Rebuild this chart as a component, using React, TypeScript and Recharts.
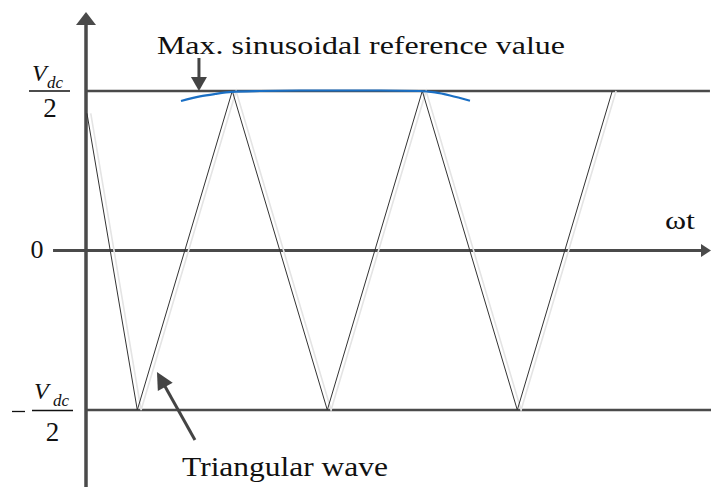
import React from "react";
import { LineChart, Line, XAxis, YAxis, ReferenceLine, ReferenceDot } from "recharts";

// Triangular carrier vertices (x in half-carrier periods, y in units of Vdc/2)
const carrierX = [0.01, 0.54, 1.54, 2.54, 3.54, 4.54, 5.54];
const carrierY = [0.86, -1, 1, -1, 1, -1, 1];

// Peak region of the sinusoidal reference
const refX = [1.0, 1.2, 1.358, 1.537, 1.832, 2.253, 2.674, 3.095, 3.516, 3.674, 3.832, 4.042];
const refY = [0.937, 0.966, 0.981, 0.994, 1.0, 1.003, 1.003, 1.003, 1.0, 0.991, 0.972, 0.939];

// Level ticks on the vertical axis
const levelTicks = [-1, 0, 1];

// Axis extents
const xMin = 0;
const xMax = 6.579;
const yMin = -1.4828;
const yMax = 1.5078;

const carrierData = carrierX.map((x, i) => ({ x, y: carrierY[i] }));
const carrierShadow = carrierX.map((x, i) => ({ x: x + 0.04, y: carrierY[i] }));
const refData = refX.map((x, i) => ({ x, y: refY[i] }));

const SERIF = '"Liberation Serif"';
const AXIS = "#4a4a4a";
const serif = (size: number, italic = false): React.CSSProperties => ({
  fontFamily: SERIF,
  fontSize: size,
  fontStyle: italic ? "italic" : "normal",
});

const arrowShape =
  (head: number, half: number, color: string, width: number) => (p: any) => {
    const { x1, y1, x2, y2 } = p;
    const dx = x2 - x1;
    const dy = y2 - y1;
    const len = Math.hypot(dx, dy) || 1;
    const ux = dx / len;
    const uy = dy / len;
    const bx = x2 - ux * head;
    const by = y2 - uy * head;
    const nx = -uy * half;
    const ny = ux * half;
    return (
      <g>
        <line x1={x1} y1={y1} x2={bx + ux} y2={by + uy} stroke={color} strokeWidth={width} />
        <polygon
          points={`${x2},${y2} ${bx + nx},${by + ny} ${bx - nx},${by - ny}`}
          fill={color}
        />
      </g>
    );
  };

const plainLine = (color: string, width: number) => (p: any) => (
  <line x1={p.x1} y1={p.y1} x2={p.x2} y2={p.y2} stroke={color} strokeWidth={width} />
);

const textShape =
  (text: string, size: number, length?: number) => (p: any) => (
    <text
      x={p.cx}
      y={p.cy}
      style={serif(size)}
      fill="#111"
      textLength={length}
      lengthAdjust={length ? "spacingAndGlyphs" : undefined}
    >
      {text}
    </text>
  );

const LevelTick = (props: any) => {
  const { x, y, payload } = props;
  const v = payload.value;
  const x0 = x;
  if (v === 0) {
    return (
      <text x={x0 - 49} y={y + 8} textAnchor="middle" style={serif(26)} fill="#111">
        0
      </text>
    );
  }
  if (v > 0) {
    return (
      <g fill="#111">
        <text x={x0 - 54} y={y - 10} style={serif(24, true)}>V</text>
        <text x={x0 - 39} y={y - 3} style={serif(17, true)}>dc</text>
        <line x1={x0 - 57} y1={y} x2={x0 - 16} y2={y} stroke="#111" strokeWidth={1.3} />
        <text x={x0 - 36} y={y + 26} style={serif(27)} textAnchor="middle">2</text>
      </g>
    );
  }
  return (
    <g fill="#111">
      <line x1={x0 - 74} y1={y + 1.5} x2={x0 - 61} y2={y + 1.5} stroke="#111" strokeWidth={1.3} />
      <text x={x0 - 52} y={y - 11} style={serif(24, true)}>V</text>
      <text x={x0 - 33} y={y - 4} style={serif(17, true)}>dc</text>
      <line x1={x0 - 54} y1={y + 0.5} x2={x0 - 13} y2={y + 0.5} stroke="#111" strokeWidth={1.3} />
      <text x={x0 - 33.5} y={y + 31} style={serif(27)} textAnchor="middle">2</text>
    </g>
  );
};

export default function App() {
  return (
    <div style={{ position: "absolute", left: 0, top: 0, width: 711, height: 487, background: "#fff" }}>
      <LineChart
        width={711}
        height={487}
        margin={{ top: 10, right: 0, bottom: 0, left: 0 }}
      >
        <XAxis
          dataKey="x"
          type="number"
          domain={[xMin, xMax]}
          allowDataOverflow
          hide
        />
        <YAxis
          type="number"
          domain={[yMin, yMax]}
          allowDataOverflow
          ticks={levelTicks}
          width={86}
          axisLine={false}
          tickLine={false}
          tickSize={0}
          tickMargin={0}
          tick={<LevelTick />}
          interval={0}
        />

        {/* dc-link levels */}
        <ReferenceLine
          segment={[{ x: 0, y: 1 }, { x: 6.568, y: 1 }]}
          ifOverflow="visible"
          shape={plainLine(AXIS, 2.5)}
        />
        <ReferenceLine
          segment={[{ x: 0, y: -1 }, { x: 6.579, y: -1 }]}
          ifOverflow="visible"
          shape={plainLine(AXIS, 2.5)}
        />

        {/* time axis */}
        <ReferenceLine
          segment={[{ x: -0.347, y: 0 }, { x: 6.579, y: 0 }]}
          ifOverflow="visible"
          shape={arrowShape(10, 6.5, AXIS, 3)}
        />
        {/* vertical axis */}
        <ReferenceLine
          segment={[{ x: 0, y: yMin }, { x: 0, y: 1.495 }]}
          ifOverflow="visible"
          shape={arrowShape(13, 10, AXIS, 3.5)}
        />

        <Line
          data={carrierShadow}
          dataKey="y"
          type="linear"
          stroke="#e4e4e4"
          strokeWidth={1.6}
          dot={false}
          isAnimationActive={false}
        />
        <Line
          data={carrierData}
          dataKey="y"
          type="linear"
          stroke="#333"
          strokeWidth={1}
          dot={false}
          isAnimationActive={false}
        />
        <Line
          data={refData}
          dataKey="y"
          type="monotone"
          stroke="#1a6fc4"
          strokeWidth={2.2}
          dot={false}
          isAnimationActive={false}
        />

        {/* annotation arrows */}
        <ReferenceLine
          segment={[{ x: 1.189, y: 1.207 }, { x: 1.189, y: 1.0 }]}
          ifOverflow="visible"
          shape={arrowShape(14, 8, "#444", 3)}
        />
        <ReferenceLine
          segment={[{ x: 1.147, y: -1.188 }, { x: 0.747, y: -0.762 }]}
          ifOverflow="visible"
          shape={arrowShape(17, 8.5, "#444", 3)}
        />

        {/* labels */}
        <ReferenceDot
          x={0.747}
          y={1.232}
          r={0}
          ifOverflow="visible"
          shape={textShape("Max. sinusoidal reference value", 25, 408)}
        />
        <ReferenceDot
          x={1.011}
          y={-1.414}
          r={0}
          ifOverflow="visible"
          shape={textShape("Triangular wave", 27, 206)}
        />
        <ReferenceDot
          x={6.095}
          y={0.135}
          r={0}
          ifOverflow="visible"
          shape={textShape("ωt", 25, 30)}
        />
      </LineChart>
    </div>
  );
}
